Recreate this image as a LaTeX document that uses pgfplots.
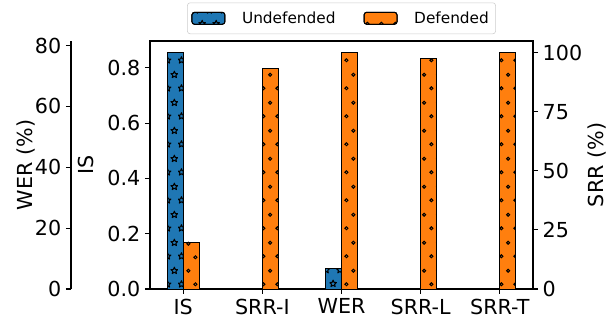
\documentclass[border=0pt]{standalone}
\usepackage{pgfplots}
\pgfplotsset{compat=1.18}
\usepackage{fontspec}
\setmainfont{DejaVu Sans}
\usetikzlibrary{patterns.meta}

\definecolor{mpblue}{HTML}{1F77B4}
\definecolor{mporange}{HTML}{FF7F0E}

\newcommand\starpath[2]{%
  \pgfpathmoveto{\pgfpointadd{\pgfpoint{#1}{#2}}{\pgfpointpolar{90}{2.7pt}}}%
  \pgfpathlineto{\pgfpointadd{\pgfpoint{#1}{#2}}{\pgfpointpolar{126}{1.2pt}}}%
  \pgfpathlineto{\pgfpointadd{\pgfpoint{#1}{#2}}{\pgfpointpolar{162}{2.7pt}}}%
  \pgfpathlineto{\pgfpointadd{\pgfpoint{#1}{#2}}{\pgfpointpolar{198}{1.2pt}}}%
  \pgfpathlineto{\pgfpointadd{\pgfpoint{#1}{#2}}{\pgfpointpolar{234}{2.7pt}}}%
  \pgfpathlineto{\pgfpointadd{\pgfpoint{#1}{#2}}{\pgfpointpolar{270}{1.2pt}}}%
  \pgfpathlineto{\pgfpointadd{\pgfpoint{#1}{#2}}{\pgfpointpolar{306}{2.7pt}}}%
  \pgfpathlineto{\pgfpointadd{\pgfpoint{#1}{#2}}{\pgfpointpolar{342}{1.2pt}}}%
  \pgfpathlineto{\pgfpointadd{\pgfpoint{#1}{#2}}{\pgfpointpolar{18}{2.7pt}}}%
  \pgfpathlineto{\pgfpointadd{\pgfpoint{#1}{#2}}{\pgfpointpolar{54}{1.2pt}}}%
  \pgfpathclose}

\pgfdeclarepattern{
  name=ostars, type=uncolored,
  bottom left={\pgfpoint{0pt}{0pt}},
  top right={\pgfpoint{10.3pt}{20.6pt}},
  tile size={\pgfpoint{10.3pt}{20.6pt}},
  code={\pgfsetlinewidth{0.75pt}\pgfsetroundjoin
    \starpath{2.6pt}{5.15pt}\starpath{7.75pt}{15.45pt}\pgfusepath{stroke}}
}
\pgfdeclarepattern{
  name=odots, type=uncolored,
  bottom left={\pgfpoint{0pt}{0pt}},
  top right={\pgfpoint{10.3pt}{20.6pt}},
  tile size={\pgfpoint{10.3pt}{20.6pt}},
  code={\pgfsetlinewidth{0.75pt}
    \pgfpathcircle{\pgfpoint{2.6pt}{5.15pt}}{1.15pt}
    \pgfpathcircle{\pgfpoint{7.75pt}{15.45pt}}{1.15pt}\pgfusepath{stroke}}
}

\pgfplotsset{
  base/.style={scale only axis, width=287.25pt, height=186pt,
    xmin=-0.42, xmax=4.42, ymin=0, at={(0,0)}, anchor=south west,
    tick align=outside, major tick length=3.75pt,
    tick style={black, line width=0.8pt},
    axis line style={line width=0.8pt},
    ticklabel style={font=\fontsize{15.5}{18}\selectfont},
    label style={font=\fontsize{15.5}{18}\selectfont},
    /pgf/number format/assume math mode=true},
  bar/.style={ybar, bar width=0.2, bar shift=0pt, draw=black, line width=0.7pt, forget plot},
  und/.style={bar, fill=mpblue, postaction={pattern=ostars, pattern color=black}},
  def/.style={bar, fill=mporange, postaction={pattern=odots, pattern color=black}},
}

\begin{document}
\begin{tikzpicture}
\useasboundingbox (-112.5pt,-21.75pt) rectangle (345.75pt,216.75pt);

% IS axis (main)
\begin{axis}[base, ymax=0.8967,
  xtick pos=bottom, ytick pos=left,
  xtick={0,1,2,3,4}, xticklabels={IS,SRR-I,WER,SRR-L,SRR-T},
  ytick={0,0.2,0.4,0.6,0.8},
  yticklabel style={/pgf/number format/fixed, /pgf/number format/fixed zerofill, /pgf/number format/precision=1},
  ylabel={IS}, ylabel style={at={(axis description cs:-0.1671,0.5)}, anchor=center},
  legend image code/.code={\draw[#1] (0pt,-4.5pt) rectangle (24.75pt,4.5pt);},
  legend columns=2, legend cell align=left,
  legend style={at={(0.5,1.028)}, anchor=south, draw=black!20, rounded corners=2pt,
    font=\fontsize{11.5}{14}\selectfont,
    /tikz/every odd column/.append style={column sep=10.5pt},
    /tikz/every even column/.append style={column sep=19pt},
    inner xsep=3pt, inner ysep=4.5pt},
]
\addlegendimage{fill=mpblue, draw=black, line width=0.7pt, postaction={pattern=ostars, pattern color=black}}
\addlegendentry{Undefended}
\addlegendimage{fill=mporange, draw=black, line width=0.7pt, postaction={pattern=odots, pattern color=black}}
\addlegendentry{Defended}
\addplot[und] coordinates {(-0.1,0.854)};
\addplot[def] coordinates {(0.1,0.17)};
\end{axis}

% SRR axis (right)
\begin{axis}[base, ymax=105, hide x axis, axis y line*=right,
  ytick={0,25,50,75,100},
  ylabel={SRR (\%)}, ylabel style={at={(axis description cs:1.1671,0.5)}, anchor=center},
]
\addplot[def] coordinates {(1.1,93.4) (3.1,97.4) (4.1,100)};
\end{axis}

% WER bars
\begin{axis}[base, ymax=81.48, hide axis]
\addplot[und] coordinates {(1.9,6.6)};
\addplot[def] coordinates {(2.1,77.6)};
\end{axis}

% WER spine (offset left)
\begin{axis}[base, ymax=81.48, at={(-59.25pt,0pt)}, hide x axis, axis y line*=left,
  ytick={0,20,40,60,80},
  ylabel={WER (\%)}, ylabel style={at={(axis description cs:-0.1175,0.5)}, anchor=center},
]
\addplot[draw=none, forget plot] coordinates {(0,0)};
\end{axis}
\end{tikzpicture}
\end{document}
